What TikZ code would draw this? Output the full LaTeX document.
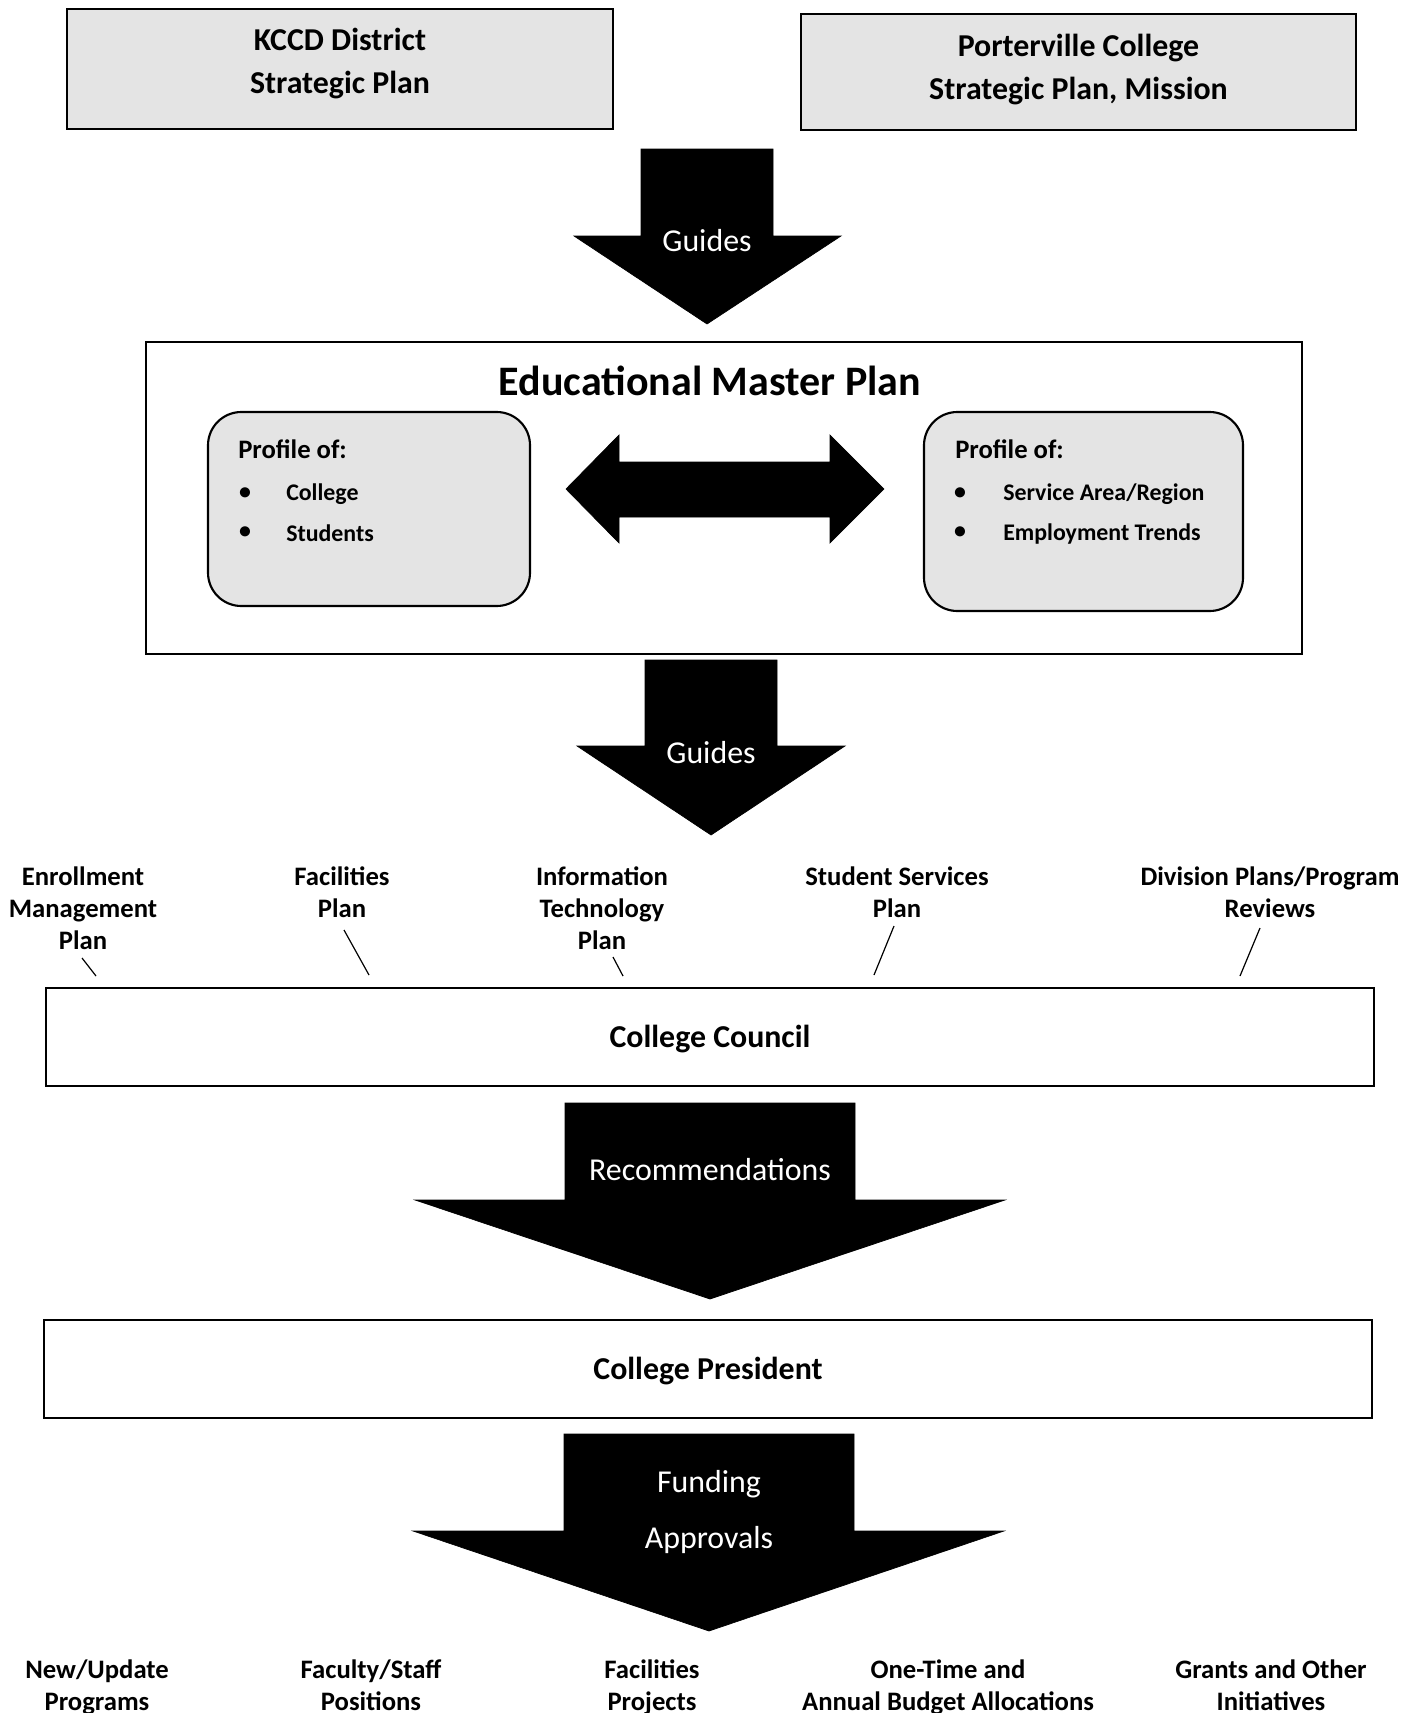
\documentclass[tikz,border=0pt]{standalone}
\usepackage{fontspec}
\setmainfont{Carlito}
\usetikzlibrary{shadows}
\definecolor{boxgray}{RGB}{228,228,228}
\newcommand\fntTitle{\fontsize{31.5}{38}\selectfont\bfseries}
\newcommand\fntBox{\fontsize{23.9}{32.3}\selectfont\bfseries}
\newcommand\fntLab{\fontsize{20}{24}\selectfont\bfseries}
\newcommand\fntItem{\fontsize{17.9}{22}\selectfont\bfseries}
\newcommand\fntArr{\fontsize{23.9}{42}\selectfont}
\tikzset{
  x=0.75pt, y=-0.75pt,
  plainbox/.style={draw=black, line width=1.9pt, inner sep=0pt,
     drop shadow={shadow xshift=0.9pt, shadow yshift=-0.9pt, fill=gray!70, opacity=1}},
  graybox/.style={plainbox, fill=boxgray},
  whitebox/.style={plainbox, fill=white},
  profbox/.style={draw=black, line width=1.6pt, fill=boxgray, rounded corners=25pt},
  bigarrow/.style={fill=black, draw=black, line width=0.5pt, line join=miter},
  arrtext/.style={text=white, font=\fntArr, align=center, inner sep=0pt},
  boxtext/.style={font=\fntBox, align=center, inner sep=0pt},
  labtext/.style={font=\fntLab, align=center, inner sep=0pt},
  itemtext/.style={font=\fntItem, anchor=west, inner sep=0pt},
  tick/.style={draw=black, line width=0.9pt},
}
\begin{document}
\begin{tikzpicture}
\useasboundingbox (0,0) rectangle (1417,1713);
\clip (0,0) rectangle (1417,1713);

% top boxes
\node[graybox, minimum width=546*0.75pt, minimum height=120*0.75pt] (kccd) at (340,69) {};
\node[boxtext] (kccdtxt) at (340,63.8) {KCCD District\\Strategic Plan};
\node[graybox, minimum width=555*0.75pt, minimum height=116*0.75pt] (pc) at (1078.5,72) {};
\node[boxtext] (pctxt) at (1078.5,69.8) {Porterville College\\Strategic Plan, Mission};

% Guides arrow 1
\fill[bigarrow] (641,149) -- (773,149) -- (773,236) -- (841,236) -- (707,324) -- (574,236) -- (641,236) -- cycle;
\node[arrtext] (guides1) at (707,241) {Guides};

% Educational Master Plan box
\node[whitebox, minimum width=1156*0.75pt, minimum height=312*0.75pt] (emp) at (724,498) {};
\node[font=\fntTitle, inner sep=0pt] (emptitle) at (710,381) {Educational Master Plan};

% profile boxes
\draw[profbox] (208,412) rectangle (530,606);
\node[itemtext, font=\fntLab] (pl0) at (238,449) {Profile of:};
\node[inner sep=0pt, font=\fntItem] (bl1) at (245,493.5) {•};
\node[itemtext] (pl1) at (286,494) {College};
\node[inner sep=0pt, font=\fntItem] (bl2) at (245,533) {•};
\node[itemtext] (pl2) at (286,533.5) {Students};

\draw[profbox] (924,412) rectangle (1243,611);
\node[itemtext, font=\fntLab] (pr0) at (955,449) {Profile of:};
\node[inner sep=0pt, font=\fntItem] (br1) at (960,493.5) {•};
\node[itemtext] (pr1) at (1003,494) {Service Area/Region};
\node[inner sep=0pt, font=\fntItem] (br2) at (960,533) {•};
\node[itemtext] (pr2) at (1003,533.5) {Employment Trends};

% double arrow
\fill[bigarrow] (566,489) -- (619,435) -- (619,462) -- (830,462) -- (830,435) -- (884,489) -- (830,543) -- (830,517) -- (619,517) -- (619,543) -- cycle;

% Guides arrow 2
\fill[bigarrow] (645,660) -- (777,660) -- (777,746) -- (845,746) -- (711,835) -- (577,746) -- (645,746) -- cycle;
\node[arrtext] (guides2) at (711,753) {Guides};

% plan labels
\node[labtext] (enr) at (83,908.5) {Enrollment\\Management\\Plan};
\node[labtext] (fac) at (342,892.5) {Facilities\\Plan};
\node[labtext] (itp) at (602,908.5) {Information\\Technology\\Plan};
\node[labtext] (ssp) at (897,892.5) {Student Services\\Plan};
\node[labtext] (div) at (1270,892.5) {Division Plans/Program\\Reviews};

\coordinate (t1a) at (82,958);  \coordinate (t1b) at (96,976);
\coordinate (t2a) at (344,930); \coordinate (t2b) at (369,975);
\coordinate (t3a) at (613,957); \coordinate (t3b) at (623,976);
\coordinate (t4a) at (894,926); \coordinate (t4b) at (874,975);
\coordinate (t5a) at (1260,928); \coordinate (t5b) at (1240,976);
\draw[tick] (t1a) -- (t1b);
\draw[tick] (t2a) -- (t2b);
\draw[tick] (t3a) -- (t3b);
\draw[tick] (t4a) -- (t4b);
\draw[tick] (t5a) -- (t5b);

% College Council
\node[whitebox, minimum width=1328*0.75pt, minimum height=98*0.75pt] (council) at (710,1037) {};
\node[boxtext] (counciltxt) at (710,1039.5) {College Council};

% Recommendations arrow
\fill[bigarrow] (565,1103) -- (855,1103) -- (855,1200) -- (1005,1200) -- (710,1299) -- (415,1200) -- (565,1200) -- cycle;
\node[arrtext] (rec) at (710,1170) {Recommendations};

% College President
\node[whitebox, minimum width=1328*0.75pt, minimum height=98*0.75pt] (pres) at (708,1369) {};
\node[boxtext] (prestxt) at (708,1371.5) {College President};

% Funding arrow
\fill[bigarrow] (564,1434) -- (854,1434) -- (854,1531) -- (1004,1531) -- (709,1631) -- (413,1531) -- (564,1531) -- cycle;
\node[arrtext] (fund) at (709,1512) {Funding\\Approvals};

% bottom labels
\node[labtext] (b1) at (97,1688) {\strut New/Update\\\strut Programs};
\node[labtext] (b2) at (371,1688) {\strut Faculty/Staff\\\strut Positions};
\node[labtext] (b3) at (652,1688) {\strut Facilities\\\strut Projects};
\node[labtext] (b4) at (948,1688) {\strut One-Time and\\\strut Annual Budget Allocations};
\node[labtext] (b5) at (1271,1688) {\strut Grants and Other\\\strut Initiatives};
\end{tikzpicture}
\end{document}
